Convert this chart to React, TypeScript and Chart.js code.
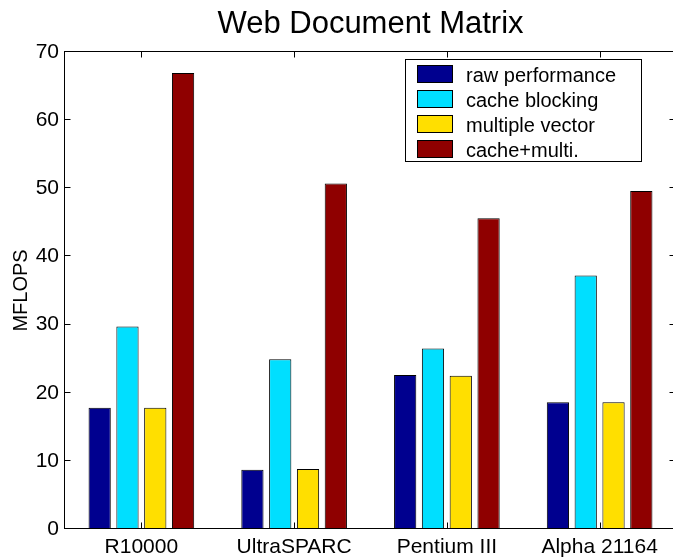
import React, { useEffect, useRef } from "react";
import { Chart, registerables } from "chart.js";

Chart.register(...registerables);

const categories = ["R10000", "UltraSPARC", "Pentium III", "Alpha 21164"];
const rawPerformance = [17.8, 8.7, 22.6, 18.6];
const cacheBlocking = [29.7, 24.9, 26.5, 37.2];
const multipleVector = [17.8, 8.8, 22.5, 18.6];
const cacheMulti = [66.9, 50.7, 45.6, 49.6];
const seriesLabels = ["raw performance", "cache blocking", "multiple vector", "cache+multi."];
const seriesColors = ["#00008F", "#00DFFF", "#FFDF00", "#8F0000"];
const yTicks = [0, 10, 20, 30, 40, 50, 60, 70];
const titleText = "Web Document Matrix";
const yTitle = "MFLOPS";

const FONT = "'Liberation Sans', Arial, Helvetica, sans-serif";

const framePlugin = {
  id: "frame",
  afterDatasetsDraw(chart: any) {
    const { ctx, chartArea: a, scales } = chart;
    const ys = scales.y;
    const xs = scales.x;
    const L = Math.round(a.left) - 0.5;
    const R = Math.round(a.right) - 0.5;
    const T = Math.round(a.top) - 0.5;
    const B = Math.round(a.bottom) - 0.5;
    ctx.save();
    ctx.lineWidth = 1;
    ctx.strokeStyle = "#000";
    ctx.strokeRect(L, T, R - L, B - T);
    ctx.beginPath();
    yTicks.forEach((v) => {
      const py = Math.round(ys.getPixelForValue(v)) - 0.5;
      ctx.moveTo(L, py);
      ctx.lineTo(L + 6, py);
      ctx.moveTo(R, py);
      ctx.lineTo(R - 6, py);
    });
    categories.forEach((_, i) => {
      const px = Math.round(xs.getPixelForValue(i)) + 0.5;
      ctx.moveTo(px, B);
      ctx.lineTo(px, B - 6);
      ctx.moveTo(px, T);
      ctx.lineTo(px, T + 6);
    });
    ctx.stroke();

    // title
    ctx.fillStyle = "#000";
    ctx.font = `31px ${FONT}`;
    ctx.textAlign = "center";
    ctx.textBaseline = "alphabetic";
    ctx.fillText(titleText, (a.left + a.right) / 2, 33);

    // legend
    const lx = 405, ly = 59, lw = 236, lh = 102;
    ctx.fillStyle = "#fff";
    ctx.fillRect(lx, ly, lw, lh);
    ctx.strokeRect(lx + 0.5, ly + 0.5, lw, lh);
    ctx.font = `20px ${FONT}`;
    ctx.textAlign = "left";
    chart.data.datasets.forEach((ds: any, i: number) => {
      const cy = 74 + i * 25;
      ctx.fillStyle = ds.backgroundColor;
      ctx.fillRect(417, cy - 9, 36, 18);
      ctx.strokeStyle = "#000";
      ctx.strokeRect(417.5, cy - 8.5, 35, 17);
      ctx.fillStyle = "#000";
      ctx.fillText(ds.label, 466, cy + 8);
    });
    ctx.restore();
  },
};

export default function App() {
  const ref = useRef<HTMLCanvasElement | null>(null);
  useEffect(() => {
    if (!ref.current) return;
    const seriesData = [rawPerformance, cacheBlocking, multipleVector, cacheMulti];
    const chart = new Chart(ref.current, {
      type: "bar",
      data: {
        labels: categories,
        datasets: seriesData.map((d, i) => ({
          label: seriesLabels[i],
          data: d,
          backgroundColor: seriesColors[i],
          borderColor: "#000",
          borderWidth: 1,
          categoryPercentage: 0.728,
          barPercentage: 0.8,
        })),
      },
      options: {
        animation: false,
        responsive: false,
        devicePixelRatio: 1,
        layout: { padding: { top: 52, right: 44, left: 0, bottom: 0 } },
        plugins: { legend: { display: false }, title: { display: false }, tooltip: { enabled: false } },
        scales: {
          x: {
            type: "category",
            grid: { display: false, drawTicks: false },
            border: { display: false },
            ticks: { color: "#000", font: { family: FONT, size: 21 }, padding: 6, maxRotation: 0 },
            afterFit: (s: any) => { s.height = 30; },
          },
          y: {
            min: 0,
            max: 70,
            grid: { display: false, drawTicks: false },
            border: { display: false },
            ticks: { color: "#000", font: { family: FONT, size: 21 }, padding: 6 },
            afterBuildTicks: (s: any) => { s.ticks = yTicks.map((v) => ({ value: v })); },
            afterFit: (s: any) => { s.width = 65; },
            title: {
              display: true,
              text: yTitle,
              color: "#000",
              font: { family: FONT, size: 20 },
              padding: { top: 9.5, bottom: 0 },
            },
          },
        },
      },
      plugins: [framePlugin],
    });
    return () => chart.destroy();
  }, []);
  return (
    <div style={{ position: "fixed", left: 0, top: 0, width: 673, height: 559, overflow: "hidden", background: "#fff" }}>
      <canvas ref={ref} width={720} height={559} style={{ width: 720, height: 559, display: "block" }} />
    </div>
  );
}
